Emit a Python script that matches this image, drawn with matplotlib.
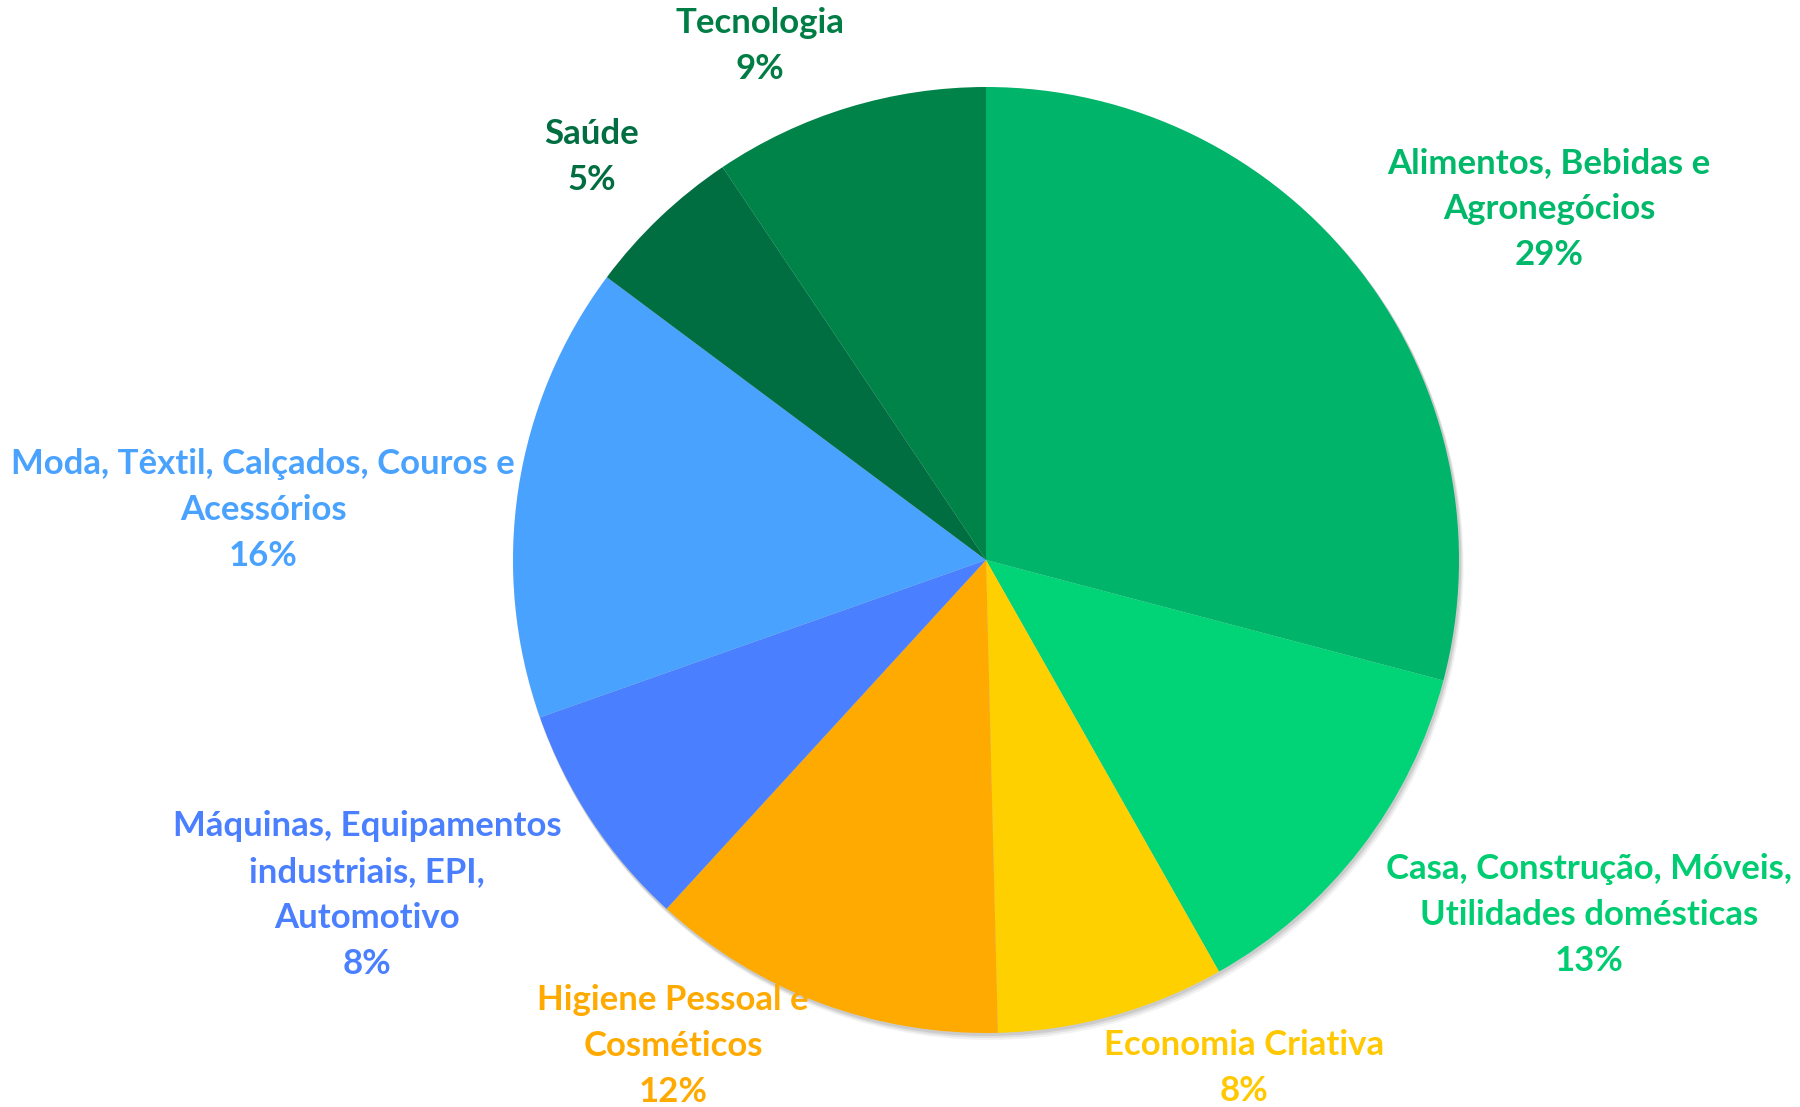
import matplotlib.pyplot as plt
from matplotlib.patches import Circle

setores = ['Alimentos, Bebidas e\nAgronegócios', 'Casa, Construção, Móveis,\nUtilidades domésticas',
           'Economia Criativa', 'Higiene Pessoal e\nCosméticos',
           'Máquinas, Equipamentos\nindustriais, EPI,\nAutomotivo',
           'Moda, Têxtil, Calçados, Couros e\nAcessórios', 'Saúde', 'Tecnologia']
percentuais = [29.1, 12.7, 7.8, 12.2, 7.8, 15.6, 5.4, 9.4]

cores = ['#00B469', '#00D477', '#FFD000', '#FFAA00', '#4A7FFF', '#4AA2FF', '#006E40', '#008348']
cores_texto = ['#00B86A', '#00CC72', '#FFC800', '#FFAA00', '#4A7FFF', '#4AA2FF', '#006E40', '#007D45']
# posicao dos rotulos (px, origem em baixo)
pos_rotulos = [(1549, 898), (1589, 192), (1244, 39), (673, 61), (367, 212),
               (263, 597), (592, 950), (760, 1061)]

fig = plt.figure(figsize=(18, 11.07), dpi=100)
ax = fig.add_axes([0, 0, 1, 1])

centro = (986, 547)
raio = 473

# sombra leve
for k, a in [(6, 0.05), (4, 0.07), (2, 0.09)]:
    ax.add_patch(Circle((centro[0] + k * 0.6, centro[1] - k), raio + 1, color='black', alpha=a, lw=0, zorder=0))

ax.pie(percentuais, colors=cores, startangle=90, counterclock=False,
       center=centro, radius=raio, frame=True, wedgeprops={'linewidth': 0, 'zorder': 1})
ax.set_xlim(0, 1800)
ax.set_ylim(0, 1107)
ax.set_aspect('equal')
ax.axis('off')

for nome, p, cor, (x, y) in zip(setores, percentuais, cores_texto, pos_rotulos):
    ax.text(x, y, f'{nome}\n{p:.0f}%', ha='center', va='center', color=cor,
            fontsize=25, fontweight='bold', family='Lato', linespacing=1.55, zorder=3)

plt.savefig('out.png', dpi=100)
